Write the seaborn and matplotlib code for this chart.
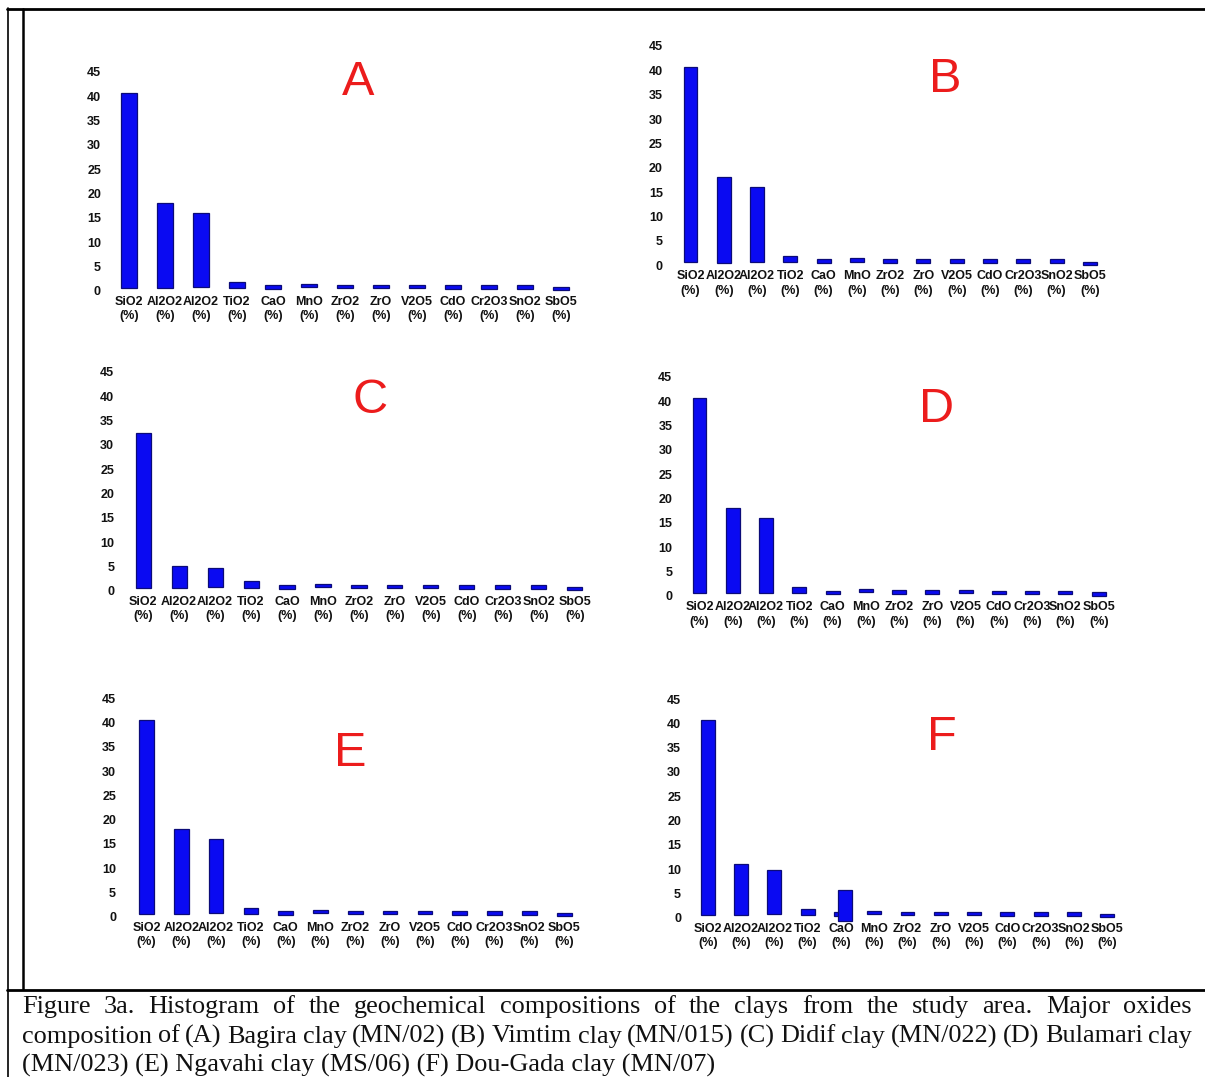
import numpy as np
import pandas as pd
import matplotlib
matplotlib.use("Agg")
import matplotlib.pyplot as plt
import seaborn as sns
from matplotlib.lines import Line2D

# ---------------------------------------------------------------- data
oxides = ["SiO2", "Al2O2", "Al2O2", "TiO2", "CaO", "MnO", "ZrO2",
          "ZrO", "V2O5", "CdO", "Cr2O3", "SnO2", "SbO5"]
panel_letters = ["A", "B", "C", "D", "E", "F"]

# upper end of each bar (%)
top_A = [40.7, 18.1, 16.0, 1.85, 1.1, 1.45, 1.15, 1.15, 1.2, 1.1, 1.1, 1.1, 0.75]
top_B = [40.6, 18.2, 16.1, 1.9, 1.2, 1.4, 1.2, 1.2, 1.2, 1.2, 1.2, 1.2, 0.75]
top_C = [32.4, 5.1, 4.65, 2.0, 1.1, 1.45, 1.15, 1.15, 1.25, 1.1, 1.1, 1.1, 0.75]
top_D = [40.6, 18.1, 16.0, 1.85, 1.1, 1.4, 1.15, 1.15, 1.2, 1.1, 1.1, 1.1, 0.75]
top_E = [40.6, 18.1, 16.0, 1.85, 1.1, 1.45, 1.15, 1.15, 1.25, 1.1, 1.1, 1.1, 0.75]
top_F = [40.7, 11.0, 9.9, 1.8, 1.1, 1.45, 1.1, 1.1, 1.2, 1.1, 1.1, 1.1, 0.7]
# lower end of each bar (%)
bar_base = [0.6, 0.55, 0.7, 0.6, 0.4, 0.75, 0.5, 0.5, 0.55, 0.4, 0.4, 0.4, 0.05]
# extra CaO bar of sample F (low, high)
cao_F_extra = [-0.6, 5.6]

y_ticks = [0, 5, 10, 15, 20, 25, 30, 35, 40, 45]

caption_lines = [
    "Figure 3a. Histogram of the geochemical compositions of the clays from the study area. Major oxides",
    "composition of (A) Bagira clay (MN/02) (B) Vimtim clay (MN/015) (C) Didif clay (MN/022) (D) Bulamari clay",
    "(MN/023) (E) Ngavahi clay (MS/06) (F) Dou-Gada clay (MN/07)",
]

# ---------------------------------------------------------------- style
sns.set_style("white")
plt.rcParams["font.family"] = ["Liberation Sans", "DejaVu Sans"]

W, H = 1205, 1077
BAR_FACE = "#0a0af2"
BAR_EDGE = "#0b0b78"
LETTER_RED = "#ec1c1c"
SERIF = ["Liberation Serif", "DejaVu Serif"]
TICK_FS = 9

fig = plt.figure(figsize=(W / 100, H / 100), dpi=100)
fig.patch.set_facecolor("white")

# panel geometry in pixels: first/last bar centre, y of 0 and 45, letter (x, baseline)
geometry = {
    "A": dict(xc0=129.0, xc1=561.0, y0=290.7, y45=71.7, lx=358, ly=95, pad=10),
    "B": dict(xc0=690.5, xc1=1089.8, y0=265.3, y45=46.0, lx=945, ly=91.7, pad=11),
    "C": dict(xc0=143.2, xc1=574.7, y0=590.7, y45=371.7, lx=370, ly=413, pad=11),
    "D": dict(xc0=699.5, xc1=1098.7, y0=596.0, y45=376.7, lx=937, ly=421.7, pad=10.5),
    "E": dict(xc0=146.5, xc1=564.2, y0=916.7, y45=698.3, lx=350, ly=766, pad=13),
    "F": dict(xc0=707.7, xc1=1107.3, y0=917.7, y45=699.0, lx=942, ly=750, pad=10),
}
tops = {"A": top_A, "B": top_B, "C": top_C, "D": top_D, "E": top_E, "F": top_F}

YMAX = 46
n = len(oxides)
for letter in panel_letters:
    g = geometry[letter]
    step = (g["xc1"] - g["xc0"]) / (n - 1)
    x0 = g["xc0"] - step / 2
    x1 = g["xc1"] + step / 2
    ppu = (g["y0"] - g["y45"]) / 45.0
    ytop = g["y45"] - (YMAX - 45) * ppu
    ax = fig.add_axes([x0 / W, 1 - g["y0"] / H, (x1 - x0) / W, (g["y0"] - ytop) / H])
    ax.set_facecolor("none")

    df = pd.DataFrame({"pos": np.arange(n), "top": tops[letter]})
    sns.barplot(data=df, x="pos", y="top", width=0.42, color=BAR_FACE,
                saturation=1, edgecolor=BAR_EDGE, linewidth=0.9,
                errorbar=None, ax=ax)
    # bars float between their lower and upper ends
    for patch, lo, hi in zip(ax.patches, bar_base, tops[letter]):
        patch.set_y(lo)
        patch.set_height(hi - lo)
        patch.set_clip_on(False)

    if letter == "F":
        ax.bar(oxides.index("CaO") + 0.13, cao_F_extra[1] - cao_F_extra[0],
               bottom=cao_F_extra[0], width=0.42, color=BAR_FACE,
               edgecolor=BAR_EDGE, linewidth=0.9, clip_on=False, zorder=3)

    ax.set_xlim(-0.5, n - 0.5)
    ax.set_ylim(0, YMAX)
    ax.set_yticks(y_ticks)
    ax.set_yticklabels([str(v) for v in y_ticks], fontsize=TICK_FS, fontweight="bold")
    ax.set_xticks(np.arange(n))
    ax.set_xticklabels([f"{o}\n(%)" for o in oxides], fontsize=TICK_FS,
                       fontweight="bold", linespacing=1.3)
    ax.tick_params(axis="y", length=0, pad=g["pad"] * 0.72, colors="#111111")
    ax.tick_params(axis="x", length=0, pad=3.5, colors="#111111")
    ax.set_xlabel("")
    ax.set_ylabel("")
    for s in ax.spines.values():
        s.set_visible(False)
    ax.grid(False)

    fig.text(g["lx"] / W, 1 - g["ly"] / H, letter, color=LETTER_RED,
             fontsize=35, ha="center", va="baseline")

# ---------------------------------------------------------------- frame lines
def hline(y, xa, xb, lw):
    fig.add_artist(Line2D([xa / W, xb / W], [1 - y / H, 1 - y / H],
                          color="black", linewidth=lw, transform=fig.transFigure))

def vline(x, ya, yb, lw):
    fig.add_artist(Line2D([x / W, x / W], [1 - ya / H, 1 - yb / H],
                          color="black", linewidth=lw, transform=fig.transFigure))

hline(9.2, 6.5, W, 2.0)
vline(7.6, 8, H, 1.2)
vline(23.2, 9, 989, 1.8)
hline(989.5, 6.5, W, 2.0)

# ---------------------------------------------------------------- caption
fig.canvas.draw()
renderer = fig.canvas.get_renderer()

def text_width(s, fs):
    t = fig.text(0, 0, s, fontsize=fs, family=SERIF)
    w = t.get_window_extent(renderer).width
    t.remove()
    return w

CAP_LEFT, CAP_RIGHT = 22.0, 1192.0
cap_fs = 10 * 693.0 / text_width(caption_lines[2], 10)
baselines = [1013.0, 1042.5, 1072.0]

for i, line in enumerate(caption_lines):
    yb = 1 - baselines[i] / H
    if i < 2:
        words = line.split(" ")
        widths = [text_width(w_, cap_fs) for w_ in words]
        gap = (CAP_RIGHT - CAP_LEFT - sum(widths)) / (len(words) - 1)
        x = CAP_LEFT
        for w_, wd in zip(words, widths):
            fig.text(x / W, yb, w_, fontsize=cap_fs, family=SERIF,
                     ha="left", va="baseline", color="#111111")
            x += wd + gap
    else:
        fig.text(CAP_LEFT / W, yb, line, fontsize=cap_fs, family=SERIF,
                 ha="left", va="baseline", color="#111111")

fig.savefig("out.png", dpi=100, facecolor="white")
